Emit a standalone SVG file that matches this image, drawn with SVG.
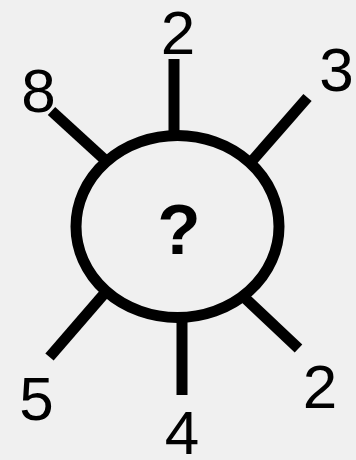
<svg xmlns="http://www.w3.org/2000/svg" width="356" height="460" viewBox="0 0 356 460">
<style>
.ln{stroke:#000;stroke-width:11;fill:none}
.t{font-family:"Liberation Sans",Arial,sans-serif;font-size:62px;fill:#000;text-anchor:middle}
</style>
<rect width="356" height="460" fill="#f0f0f0"/>
<g id="connectors">
<line class="ln" x1="174" y1="59" x2="174" y2="136"/>
<line class="ln" x1="51.5" y1="111" x2="104" y2="159"/>
<line class="ln" x1="307.5" y1="97.5" x2="252" y2="161"/>
<line class="ln" x1="49.5" y1="357" x2="104" y2="294"/>
<line class="ln" x1="182" y1="395" x2="182" y2="318"/>
<line class="ln" x1="298.5" y1="348.5" x2="246" y2="299"/>
</g>
<g id="center">
<ellipse class="ln" cx="177.5" cy="226.5" rx="101.5" ry="91"/>
<text x="179" y="254" style="font-family:'Liberation Sans',Arial,sans-serif;font-size:71px;font-weight:bold;text-anchor:middle">?</text>
</g>
<g id="n-top"><text class="t" x="178" y="54">2</text></g>
<g id="n-tl"><text class="t" x="38.5" y="111.5">8</text></g>
<g id="n-tr"><text class="t" x="336.5" y="90.5">3</text></g>
<g id="n-bl"><text class="t" x="36.5" y="420">5</text></g>
<g id="n-b"><text class="t" x="182" y="454">4</text></g>
<g id="n-br"><text class="t" x="320" y="408">2</text></g>
</svg>
